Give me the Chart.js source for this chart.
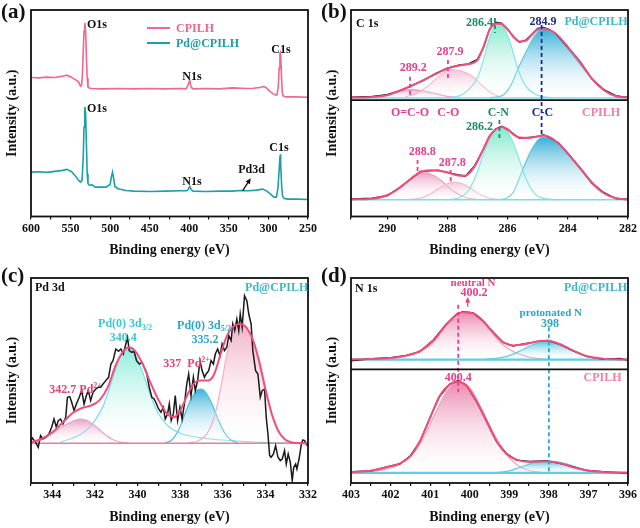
<!DOCTYPE html>
<html>
<head>
<meta charset="utf-8">
<script src="https://cdn.jsdelivr.net/npm/chart.js@4.4.1/dist/chart.umd.min.js"></script>
<style>
  body { margin: 0; background: #fff; }
  #fig { position: relative; width: 640px; height: 528px; }
  #fig canvas { position: absolute; }
</style>
</head>
<body>
<div id="fig">
  <canvas id="survey" width="320" height="264" style="left:0;top:0"></canvas>
  <canvas id="carbon" width="320" height="264" style="left:320px;top:0"></canvas>
  <canvas id="palladium" width="320" height="264" style="left:0;top:264px"></canvas>
  <canvas id="nitrogen" width="320" height="264" style="left:320px;top:264px"></canvas>
</div>
<script>
// ---------- (a) survey spectra ----------
const rangeA = [250, 600];
const yA = [0, 206];
const surveyCpilhE = [600, 590, 580, 570, 560, 555, 549, 543, 540, 537.5, 536, 535, 534, 533, 532, 531, 530, 529, 528, 525,
  510, 490, 470, 450, 430, 412, 404, 401.5, 399.5, 397.5, 395, 378, 362, 345, 328, 319, 311, 307, 303, 299,
  294, 290, 289, 287.5, 286.5, 285.5, 285, 284.5, 283.5, 282.5, 281.5, 280, 277, 265, 250];
const surveyCpilhI = [138.7, 138.3, 139, 138.7, 140, 141, 139, 136, 134.3, 130, 131, 142, 165, 185, 193.3, 185, 160, 138, 129, 127.7,
  127.3, 127.7, 127.3, 127.7, 127.3, 127.7, 127.3, 131.3, 136, 128.7, 127.3, 127.7, 127.3, 128.3, 127.7, 128, 128.7, 129.7, 128.7, 125.3,
  122.3, 121, 122, 130, 148, 162.7, 163.5, 160, 140, 124, 120.5, 119.7, 119.3, 119.3, 119];
const surveyPdE = [600, 590, 580, 570, 560, 555, 549, 544.5, 540.5, 537.5, 535.5, 534, 533, 532, 531, 530, 529, 528, 526, 523,
  519, 505, 500, 498.5, 497, 495.5, 494, 490, 480, 470, 450, 430, 412, 403, 401, 399.3, 397.5, 395, 380, 360,
  345, 336, 325, 315, 307, 302, 297, 293, 290, 288, 286.5, 285.3, 284.9, 284.2, 283.2, 282, 280, 275, 265, 250];
const surveyPdI = [44.3, 44.7, 44, 45, 46, 47, 45, 41, 36.7, 34.3, 36, 59.3, 89.3, 109.3, 102.7, 72.7, 42.7, 32.7, 31, 31.7,
  29.3, 29.3, 32, 39.3, 44.3, 37.7, 30, 27.7, 26, 25.3, 25, 25.3, 25.7, 25.7, 27.3, 30, 26.7, 25.3, 25, 25.3,
  25.3, 26, 25.7, 26.3, 27.3, 25.3, 22, 19.3, 19.3, 27.7, 46, 61, 62, 52.7, 29.3, 20, 18, 17.3, 17.3, 17];

// ---------- (b) C 1s ----------
const rangeB = [282, 291.2];
const yBTop = [-2.3, 87.7];
const yBBot = [-16.7, 99.3];
const c1sBaseE = [291.2, 282];
const c1sBaseI = [0, 0];
const c1sTopE = [291.2, 290.5, 290.0, 289.5, 289.2, 288.8, 288.4, 288.0, 287.6, 287.3, 287.0, 286.8, 286.6, 286.4, 286.2,
  286.0, 285.8, 285.6, 285.4, 285.2, 285.0, 284.8, 284.6, 284.4, 284.0, 283.6, 283.2, 282.8, 282.4, 282.0];
const c1sTopFit = [0.3, 1, 2.7, 8.3, 11.7, 17.7, 23.7, 29.3, 32.3, 33.7, 37.7, 51, 67.7, 74.3, 73.7,
  68.3, 61, 56.3, 57, 62.7, 68.3, 69.3, 67.7, 64.3, 51, 36, 19.3, 7.7, 1.7, 0.3];
const c1sTopRaw = [0.6, 1.4, 3.2, 8.0, 12.2, 17.2, 24.2, 29.8, 32.8, 34.0, 38.5, 50.2, 68.5, 75.5, 74.6,
  68.8, 60.5, 55.6, 57.6, 63.2, 69.4, 70.3, 68.2, 64.0, 50.4, 36.6, 19.0, 8.2, 2.0, 0.5];
const ccTopE = [286.6, 286.2, 285.9, 285.67, 285.4, 285.1, 284.85, 284.6, 284.3, 284.0, 283.6, 283.2, 282.8, 282.4, 282.0];
const ccTopI = [0.3, 2, 12, 28, 45, 62, 69, 67, 60, 49, 34, 19, 8, 2.5, 0.5];
const cnTopE = [287.9, 287.6, 287.3, 287.0, 286.8, 286.6, 286.35, 286.1, 285.9, 285.67, 285.4, 285.1, 284.8, 284.5];
const cnTopI = [0.4, 2, 8, 20, 38, 60, 74, 69, 54, 30, 12, 4, 1, 0.2];
const coTopE = [289.4, 289.0, 288.6, 288.3, 288.0, 287.8, 287.5, 287.2, 286.9, 286.6, 286.3];
const coTopI = [1, 5, 13, 21, 27, 28, 26.5, 22, 14, 6, 1.5];
const ocoTopE = [290.6, 290.2, 289.8, 289.4, 289.2, 288.9, 288.5, 288.1, 287.7];
const ocoTopI = [0.5, 2, 5, 7.7, 8.2, 7.5, 5, 2, 0.5];
const c1sBotE = [291.2, 290.5, 290.0, 289.6, 289.2, 288.9, 288.6, 288.3, 288.0, 287.7, 287.4, 287.1, 286.8, 286.6, 286.4,
  286.2, 286.0, 285.8, 285.6, 285.3, 285.0, 284.8, 284.6, 284.3, 284.0, 283.6, 283.2, 282.8, 282.4, 282.0];
const c1sBotFit = [0.3, 1, 4.5, 11.5, 21.5, 27.5, 29.5, 29, 27.5, 24.5, 24, 33, 51, 63, 70,
  72.7, 70.5, 65, 62, 61.5, 63.3, 64, 62.5, 56, 46.5, 31.5, 17, 6.5, 1.5, 0.3];
const c1sBotRaw = [0.8, 1.5, 4.0, 12.0, 21.0, 28.2, 29.0, 29.6, 27.0, 25.2, 23.4, 33.8, 50.4, 63.8, 70.6,
  73.4, 70.0, 65.6, 61.4, 62.2, 63.0, 64.8, 62.0, 56.6, 46.0, 32.0, 16.4, 7.0, 1.2, 0.6];
const ccBotE = [286.4, 286.1, 285.8, 285.5, 285.2, 284.95, 284.8, 284.5, 284.2, 283.9, 283.5, 283.1, 282.7, 282.3, 282.0];
const ccBotI = [0.2, 1, 8, 30, 50, 61, 62.7, 60, 53, 43, 29, 15, 5.5, 1, 0.2];
const cnBotE = [287.9, 287.6, 287.3, 287.0, 286.8, 286.6, 286.4, 286.2, 286.0, 285.8, 285.6, 285.4, 285.2, 285.0, 284.7, 284.4];
const cnBotI = [0.3, 2, 9, 28, 46, 60, 68, 71, 68, 56, 39, 22, 10, 3.5, 0.8, 0.1];
const coBotE = [289.3, 289.0, 288.6, 288.3, 288.0, 287.8, 287.5, 287.2, 286.9, 286.6, 286.3];
const coBotI = [0.3, 1, 5, 11, 16, 17.7, 16, 11, 5, 1.5, 0.3];
const ocoBotE = [290.8, 290.6, 290.2, 289.8, 289.4, 289.1, 288.8, 288.5, 288.2, 287.9, 287.6, 287.3, 287.0];
const ocoBotI = [0.2, 0.5, 3, 8, 16, 23, 27, 25, 19, 11, 5, 1.5, 0.3];

// ---------- (c) Pd 3d ----------
const rangeC = [332, 345];
const yC = [-39.7, 165.3];
const pdBaseE = [345, 332];
const pdBaseI = [0, 0];
const pdRawE = [345.0, 344.94, 344.78, 344.66, 344.55, 344.44, 344.31, 344.16, 344.03, 343.92,
  343.81, 343.72, 343.61, 343.50, 343.37, 343.29, 343.18, 343.09, 342.98, 342.87,
  342.75, 342.62, 342.51, 342.40, 342.31, 342.20, 342.09, 341.96, 341.84, 341.73,
  341.62, 341.49, 341.36, 341.25, 341.15, 341.02, 340.89, 340.78, 340.67, 340.55,
  340.47, 340.39, 340.27, 340.16, 340.05, 339.92, 339.80, 339.69, 339.58, 339.45,
  339.33, 339.22, 339.11, 339.01, 338.90, 338.79, 338.70, 338.59, 338.51, 338.42,
  338.32, 338.23, 338.12, 338.01, 337.91, 337.80, 337.69, 337.60, 337.49, 337.38,
  337.29, 337.18, 337.07, 336.97, 336.86, 336.78, 336.66, 336.55, 336.44, 336.35,
  336.24, 336.13, 336.03, 335.92, 335.81, 335.72, 335.61, 335.53, 335.44, 335.34,
  335.25, 335.18, 335.09, 334.98, 334.87, 334.78, 334.67, 334.59, 334.46, 334.35,
  334.24, 334.15, 334.04, 333.96, 333.88, 333.80, 333.73, 333.62, 333.52, 333.41,
  333.30, 333.21, 333.10, 333.02, 332.93, 332.83, 332.74, 332.67, 332.58, 332.52,
  332.42, 332.31, 332.24, 332.16, 332.08, 332.00];
const pdRawI = [2.7, 5.3, 1.0, -4.0, 7.7, 4.3, 6.0, 9.3, 16.0, 24.3,
  16.0, 22.7, 24.3, 19.3, 26.0, 46.0, 46.7, 41.0, 32.7, 39.3,
  45.3, 52.7, 39.3, 47.7, 52.7, 42.7, 51.0, 54.3, 56.0, 56.0,
  59.3, 62.7, 66.0, 79.3, 82.7, 94.3, 92.0, 94.3, 89.3, 99.3,
  106.0, 92.7, 91.0, 92.0, 82.7, 79.3, 81.0, 76.0, 71.0, 56.0,
  46.0, 44.3, 39.3, 34.3, 31.0, 36.0, 24.3, 29.3, 39.3, 22.7,
  29.3, 47.7, 22.7, 36.0, 24.3, 39.3, 59.3, 69.3, 47.7, 66.0,
  52.7, 62.7, 82.7, 72.7, 66.0, 69.3, 72.7, 82.7, 79.3, 89.3,
  94.3, 87.7, 99.3, 92.7, 96.0, 107.7, 102.7, 119.3, 112.7, 124.3,
  112.7, 129.3, 116.0, 147.7, 142.7, 129.3, 119.3, 92.7, 72.7, 69.3,
  46.0, 52.7, 54.3, 26.0, 9.3, -12.3, -14.0, -10.7, -2.3, -14.0,
  -17.3, -15.7, -7.3, -20.7, -10.7, -19.0, -37.3, -24.0, -20.7, -25.7,
  -15.7, -0.7, 3.3, 2.7, -0.7, -3.3];
const pdFitE = [345, 344.5, 344.0, 343.5, 343.0, 342.6, 342.2, 341.8, 341.4, 341.0, 340.7, 340.4, 340.1, 339.8, 339.4,
  339.0, 338.6, 338.3, 338.0, 337.6, 337.3, 337.0, 336.7, 336.4, 336.1, 335.8, 335.5, 335.2, 334.9, 334.6,
  334.3, 334.0, 333.7, 333.4, 333.1, 332.8, 332.5, 332.0];
const pdFitI = [1, 4.3, 11, 21, 31, 35.3, 37.7, 42.7, 56, 79.3, 91, 96, 92, 81, 61,
  42.7, 29.3, 26, 32.7, 51, 61, 62.7, 62.7, 69.3, 89.3, 107.7, 116.7, 119.3, 116, 104.3,
  82.7, 54.3, 29.3, 12.7, 4.3, 1, 0.3, 0];
const pd342E = [345.0, 344.5, 344.0, 343.5, 343.0, 342.7, 342.4, 342.0, 341.6, 341.2, 340.8, 340.4];
const pd342I = [1, 4, 10, 17, 22.5, 24.3, 23, 17.5, 10, 4, 1.2, 0.3];
const pd340E = [343.6, 343.2, 342.8, 342.4, 342.0, 341.6, 341.2, 340.9, 340.65, 340.45, 340.2, 339.9, 339.6,
  339.3, 339.0, 338.6, 338.2, 337.8, 337.2, 336.6, 336.0, 335.0, 334.0, 333.0, 332.0];
const pd340I = [1.5, 4, 7.5, 13, 23, 38, 63, 82, 93, 96, 92, 79, 61, 43, 29, 18, 12, 8.5, 6, 4.5, 3.3, 1.8, 0.9, 0.3, 0.1];
const pd337E = [338.7, 338.4, 338.1, 337.8, 337.5, 337.2, 337.0, 336.8, 336.5, 336.2, 335.9, 335.6, 335.3];
const pd337I = [0.5, 3, 12, 28, 44, 53, 54.3, 51, 39, 23, 10, 3, 0.5];
const pd335E = [337.6, 337.2, 336.8, 336.4, 336.1, 335.8, 335.5, 335.2, 334.9, 334.6, 334.3, 334.0, 333.7, 333.4, 333.1, 332.8, 332.5];
const pd335I = [0.5, 2, 8, 26, 55, 90, 111, 119, 115, 102, 80, 53, 29, 12, 4, 1, 0.2];

// ---------- (d) N 1s ----------
const rangeD = [396, 403];
const yDTop = [-9.7, 81.3];
const yDBot = [-10, 103.3];
const n1sBaseE = [403, 396];
const n1sBaseI = [0, 0];
const n1sTopE = [403, 402.5, 402.0, 401.6, 401.26, 400.92, 400.59, 400.33, 400.17, 399.91, 399.66, 399.41,
  399.16, 398.9, 398.57, 398.23, 398.02, 397.73, 397.39, 397.05, 396.63, 396.21, 396];
const n1sTopFit = [0.2, 0.5, 1.5, 4, 8.5, 19, 35, 44.5, 47.2, 46, 38.5, 27, 17.5, 14, 15.5, 18.5, 18.7, 15.5, 9, 3.5, 0.8, 0.2, 0.1];
const n1sTopRaw = [-1.3, 0.8, 1.8, 4.2, 8.0, 19.5, 35.5, 45.3, 47.7, 46.4, 38.2, 27.4, 17.2, 13.5, 16.2, 18.4, 19.0, 15.2, 8.6, 3.2, 0.3, 1.2, -0.7];
const neuTopE = [402.8, 402.4, 402.0, 401.6, 401.2, 400.9, 400.6, 400.3, 400.05, 399.8, 399.5, 399.2, 398.9, 398.6, 398.3, 398.0];
const neuTopI = [0.2, 0.5, 1.5, 4, 9, 18, 34, 43, 47, 44, 30, 16, 8, 3.5, 1.2, 0.3];
const proTopE = [399.6, 399.3, 399.0, 398.7, 398.4, 398.05, 397.7, 397.4, 397.1, 396.8, 396.5];
const proTopI = [0.3, 1.5, 4, 9, 15, 18.7, 15.5, 9.5, 4, 1.3, 0.3];
const n1sBotE = [403, 402.5, 402.0, 401.76, 401.5, 401.26, 401.0, 400.76, 400.5, 400.29, 400.08, 399.83,
  399.58, 399.32, 399.07, 398.82, 398.48, 398.06, 397.73, 397.39, 397.05, 396.63, 396];
const n1sBotFit = [1, 2.3, 6.7, 9.5, 16.7, 31.7, 55, 76.7, 88.3, 91, 86.7, 71.7, 51.7, 31.7, 19, 13.3, 11, 11.7, 10, 5.7, 2.7, 1, 0.2];
const n1sBotRaw = [1.3, 2.0, 7.0, 9.0, 17.2, 31.2, 55.6, 76.2, 88.8, 92.2, 87.2, 71.2, 52.2, 31.0, 19.4, 12.8, 11.5, 12.2, 9.6, 6.2, 2.4, 1.3, -0.3];
const neuBotE = [403.0, 402.6, 402.2, 401.8, 401.5, 401.2, 400.9, 400.6, 400.3, 400.0, 399.7, 399.4, 399.1, 398.8, 398.5, 398.2];
const neuBotI = [0.3, 1, 3, 8, 16.5, 33, 57, 80, 91, 85, 64, 40, 20, 8, 2.5, 0.5];
const proBotE = [399.4, 399.0, 398.7, 398.4, 398.0, 397.6, 397.3, 397.0, 396.6];
const proBotI = [0.3, 2, 6, 10, 11.7, 9.5, 5.5, 2.5, 0.5];

// ---------- colours ----------
const PINK = '#f0678f', TEAL = '#1e9eab', FIT = '#f24d7c', RAW = '#1a1a1a';
const MAG = '#e83e8c', GREEN = '#1f8a6a', NAVY = '#1c2a8c', CYAN = '#3bb8c6', CYAN2 = '#2aa6c8', LPINK = '#f07fa0';
const SERIF = "'Liberation Serif', 'Times New Roman', serif";

Chart.defaults.font.family = SERIF;
Chart.defaults.font.weight = 'bold';
Chart.defaults.color = '#111';
Chart.defaults.animation = false;
Chart.defaults.events = [];
Chart.defaults.plugins.legend.display = false;
Chart.defaults.plugins.tooltip.enabled = false;

const pts = (es, vs) => es.map((e, i) => ({ x: e, y: vs[i] }));

function trace(label, es, vs, color, width, axis, smooth) {
  return {
    label, data: pts(es, vs), borderColor: color, borderWidth: width, pointRadius: 0,
    fill: false, yAxisID: axis, tension: 0,
    cubicInterpolationMode: smooth ? 'monotone' : 'default'
  };
}

// vertical gradient: saturated at the peak top, fading to white at the baseline
function shade(color, axis) {
  return ctx => {
    const ch = ctx.chart;
    if (!ch.chartArea) return color;
    const sc = ch.scales[axis];
    const top = Math.max(...ch.data.datasets[ctx.datasetIndex].data.map(p => p.y));
    const g = ch.ctx.createLinearGradient(0, sc.getPixelForValue(top), 0, sc.getPixelForValue(0));
    g.addColorStop(0, color);
    g.addColorStop(1, 'rgba(255,255,255,0.1)');
    return g;
  };
}

function peak(label, es, vs, edge, tint, axis) {
  return {
    label, data: pts(es, vs), borderColor: edge, borderWidth: 1.2, pointRadius: 0, yAxisID: axis,
    cubicInterpolationMode: 'monotone', fill: 'origin', backgroundColor: shade(tint, axis)
  };
}

function energyAxis(range, step, every, height, titlePad) {
  return {
    type: 'linear', reverse: true, min: range[0], max: range[1],
    afterFit: s => { s.height = height; },
    grid: { drawOnChartArea: false, drawTicks: true, tickLength: 3, color: '#111', lineWidth: 1.2 },
    border: { display: false },
    ticks: {
      stepSize: step, autoSkip: false, maxRotation: 0, padding: 2, color: '#111',
      font: { size: 12, weight: 'bold' },
      callback: v => Math.abs(v / every - Math.round(v / every)) < 1e-6 ? String(Math.round(v)) : ''
    },
    title: {
      display: true, text: 'Binding energy (eV)', color: '#111',
      font: { size: 14, weight: 'bold' }, padding: { top: 0, bottom: titlePad }
    }
  };
}

function intensityAxis(range, extra) {
  return Object.assign({
    type: 'linear', min: range[0], max: range[1],
    afterFit: s => { s.width = 31; },
    grid: { display: false, drawTicks: false }, border: { display: false }, ticks: { display: false }
  }, extra);
}

// ---------- annotations (canvas pixels, x of markers in eV) ----------
const DECOR = {
  survey: {
    tag: '(a)', marks: [],
    legend: [{ ds: 0, y: 28 }, { ds: 1, y: 43 }],
    arrows: [{ from: [242.7, 190.7], to: [250.7, 178.3], c: '#111' }],
    texts: [
      { t: 'O1s', x: 97, y: 25 }, { t: 'N1s', x: 192, y: 76.5 }, { t: 'C1s', x: 281, y: 50 },
      { t: 'O1s', x: 97, y: 109 }, { t: 'N1s', x: 192, y: 182 }, { t: 'Pd3d', x: 251.5, y: 169.5 },
      { t: 'C1s', x: 279, y: 147.5 }
    ]
  },
  carbon: {
    tag: '(b)', split: 'yTop',
    marks: [
      { e: 286.42, y1: 18, y2: 33, c: GREEN }, { e: 284.87, y1: 25, y2: 137, c: NAVY },
      { e: 287.98, y1: 60, y2: 78.3, c: MAG }, { e: 289.24, y1: 76.7, y2: 95, c: MAG },
      { e: 286.27, y1: 120, y2: 138.3, c: GREEN }, { e: 288.99, y1: 160, y2: 175, c: MAG },
      { e: 287.89, y1: 170, y2: 182.7, c: MAG }
    ],
    texts: [
      { t: 'C 1s', x: 36, y: 23.5, align: 'left' },
      { t: '286.4', x: 159.5, y: 23, c: GREEN }, { t: '284.9', x: 223, y: 21.7, c: NAVY },
      { t: 'Pd@CPILH', x: 276, y: 22, c: CYAN },
      { t: '287.9', x: 130, y: 51.7, c: MAG }, { t: '289.2', x: 93.3, y: 68.3, c: MAG },
      { t: 'O=C-O', x: 90, y: 113.3, c: MAG }, { t: 'C-O', x: 128.3, y: 113.3, c: MAG },
      { t: 'C-N', x: 178.3, y: 113.3, c: GREEN }, { t: 'C-C', x: 222.5, y: 113.3, c: NAVY },
      { t: 'CPILH', x: 281, y: 113.3, c: LPINK },
      { t: '286.2', x: 159.5, y: 126.7, c: GREEN }, { t: '288.8', x: 102.2, y: 151.7, c: MAG },
      { t: '287.8', x: 132.2, y: 163.3, c: MAG }
    ]
  },
  palladium: {
    tag: '(c)', marks: [],
    texts: [
      { t: 'Pd 3d', x: 35, y: 23.7, align: 'left' },
      { t: 'Pd@CPILH', x: 276.7, y: 23.7, c: CYAN },
      { parts: [['Pd(0) 3d', 'n'], ['3/2', 'sub']], x: 125, y: 60, c: '#3cc8d2' },
      { t: '340.4', x: 123.3, y: 73.7, c: '#3cc8d2' },
      { parts: [['Pd(0) 3d', 'n'], ['5/2', 'sub']], x: 204, y: 61.7, c: CYAN2 },
      { t: '335.2', x: 205, y: 75.5, c: CYAN2 },
      { parts: [['337  Pd', 'n'], ['2+', 'sup']], x: 163.3, y: 100.3, align: 'left', c: '#e8407a' },
      { parts: [['342.7 Pd', 'n'], ['2+', 'sup']], x: 49.3, y: 125.7, align: 'left', c: '#e8407a' }
    ]
  },
  nitrogen: {
    tag: '(d)', split: 'yTop',
    marks: [{ e: 400.29, y1: 40.7, y2: 128.3, c: MAG }, { e: 398.0, y1: 63.3, y2: 210, c: CYAN2 }],
    arrows: [{ from: [147.7, 42.7], to: [147.7, 33], c: MAG }],
    texts: [
      { t: 'N 1s', x: 35, y: 25, align: 'left' },
      { t: 'neutral N', x: 153, y: 18.8, c: MAG, size: 11 },
      { t: '400.2', x: 154, y: 28.8, c: MAG },
      { t: 'Pd@CPILH', x: 275.5, y: 23.7, c: CYAN },
      { t: 'protonated N', x: 230.8, y: 48.8, c: CYAN2, size: 11 },
      { t: '398', x: 230, y: 59.7, c: CYAN2 },
      { t: 'CPILH', x: 282.5, y: 113.7, c: LPINK },
      { t: '400.4', x: 138.3, y: 113.7, c: MAG }
    ]
  }
};

function drawRich(g, t) {
  const size = t.size || 12;
  const parts = t.parts || [[t.t, 'n']];
  const fontOf = k => `bold ${k === 'n' ? size : Math.round(size * 0.7)}px ${SERIF}`;
  let w = 0;
  for (const [s, k] of parts) { g.font = fontOf(k); w += g.measureText(s).width; }
  let x = t.align === 'left' ? t.x : t.x - w / 2;
  g.fillStyle = t.c || '#111';
  g.textAlign = 'left';
  g.textBaseline = 'middle';
  for (const [s, k] of parts) {
    g.font = fontOf(k);
    const dy = k === 'sub' ? size * 0.3 : k === 'sup' ? -size * 0.35 : 0;
    g.fillText(s, x, t.y + dy);
    x += g.measureText(s).width;
  }
}

const decor = {
  id: 'decor',
  afterDraw(chart) {
    const d = DECOR[chart.canvas.id];
    const g = chart.ctx, a = chart.chartArea, X = chart.scales.x;
    g.save();
    g.lineWidth = 1.8;
    g.setLineDash([4, 3]);
    for (const m of d.marks) {
      const px = X.getPixelForValue(m.e);
      g.strokeStyle = m.c;
      g.beginPath(); g.moveTo(px, m.y1); g.lineTo(px, m.y2); g.stroke();
    }
    g.setLineDash([]);
    g.strokeStyle = '#111';
    g.strokeRect(a.left, a.top, a.right - a.left, a.bottom - a.top);
    if (d.split) {
      const y = chart.scales[d.split].bottom;
      g.beginPath(); g.moveTo(a.left, y); g.lineTo(a.right, y); g.stroke();
    }
    g.fillStyle = '#111';
    g.textBaseline = 'middle';
    g.textAlign = 'left';
    g.font = `bold 21px ${SERIF}`;
    g.fillText(d.tag, 1, 13);
    g.save();
    g.translate(12, (a.top + a.bottom) / 2);
    g.rotate(-Math.PI / 2);
    g.textAlign = 'center';
    g.font = `bold 14px ${SERIF}`;
    g.fillText('Intensity (a.u.)', 0, 0);
    g.restore();
    for (const lg of d.legend || []) {
      const ds = chart.data.datasets[lg.ds];
      g.strokeStyle = ds.borderColor; g.lineWidth = 2;
      g.beginPath(); g.moveTo(147, lg.y); g.lineTo(170, lg.y); g.stroke();
      drawRich(g, { t: ds.label, x: 176, y: lg.y + 0.5, align: 'left', c: ds.borderColor });
    }
    for (const ar of d.arrows || []) {
      const [x1, y1] = ar.from, [x2, y2] = ar.to;
      const ang = Math.atan2(y2 - y1, x2 - x1);
      g.strokeStyle = ar.c; g.fillStyle = ar.c; g.lineWidth = 1.3;
      g.beginPath(); g.moveTo(x1, y1); g.lineTo(x2 - 3 * Math.cos(ang), y2 - 3 * Math.sin(ang)); g.stroke();
      g.beginPath();
      g.moveTo(x2, y2);
      g.lineTo(x2 - 6 * Math.cos(ang - 0.45), y2 - 6 * Math.sin(ang - 0.45));
      g.lineTo(x2 - 6 * Math.cos(ang + 0.45), y2 - 6 * Math.sin(ang + 0.45));
      g.closePath(); g.fill();
    }
    for (const t of d.texts) drawRich(g, t);
    g.restore();
  }
};

function panel(id, datasets, scales, top) {
  return new Chart(document.getElementById(id), {
    type: 'line',
    data: { datasets },
    options: {
      responsive: false,
      layout: { padding: { top, right: 12, left: 0, bottom: 0 } },
      scales
    },
    plugins: [decor]
  });
}

// (a)
panel('survey', [
  trace('CPILH', surveyCpilhE, surveyCpilhI, PINK, 1.6, 'y', false),
  trace('Pd@CPILH', surveyPdE, surveyPdI, TEAL, 1.6, 'y', false)
], { x: energyAxis(rangeA, 25, 50, 47.5, 5.6), y: intensityAxis(yA) }, 10);

// (b) — stacked intensity axes: the later one is placed on top
panel('carbon', [
  trace('fit top', c1sTopE, c1sTopFit, FIT, 2, 'yTop', true),
  trace('raw top', c1sTopE, c1sTopRaw, RAW, 1.4, 'yTop', false),
  trace('base top', c1sBaseE, c1sBaseI, '#7fdbe8', 1.5, 'yTop', false),
  peak('C-N', cnTopE, cnTopI, '#86e4e4', 'rgba(110,228,196,0.85)', 'yTop'),
  peak('C-C', ccTopE, ccTopI, '#5cc6e0', 'rgba(30,165,210,0.9)', 'yTop'),
  peak('C-O', coTopE, coTopI, '#f4b6cf', 'rgba(240,178,205,0.75)', 'yTop'),
  peak('O=C-O', ocoTopE, ocoTopI, '#ec9cc0', 'rgba(230,140,185,0.8)', 'yTop'),
  trace('fit bottom', c1sBotE, c1sBotFit, FIT, 2, 'yBot', true),
  trace('raw bottom', c1sBotE, c1sBotRaw, RAW, 1.4, 'yBot', false),
  trace('base bottom', c1sBaseE, c1sBaseI, '#7fdbe8', 1.5, 'yBot', false),
  peak('C-N', cnBotE, cnBotI, '#86e4e4', 'rgba(110,228,196,0.85)', 'yBot'),
  peak('C-C', ccBotE, ccBotI, '#5cc6e0', 'rgba(30,165,210,0.9)', 'yBot'),
  peak('C-O', coBotE, coBotI, '#f4b6cf', 'rgba(240,178,205,0.75)', 'yBot'),
  peak('O=C-O', ocoBotE, ocoBotI, '#ec9cc0', 'rgba(230,140,185,0.8)', 'yBot')
], {
  x: energyAxis(rangeB, 1, 2, 47.5, 5.6),
  yBot: intensityAxis(yBBot, { stack: 'c1s', stackWeight: yBBot[1] - yBBot[0] }),
  yTop: intensityAxis(yBTop, { stack: 'c1s', stackWeight: yBTop[1] - yBTop[0] })
}, 10);

// (c)
panel('palladium', [
  trace('fit', pdFitE, pdFitI, FIT, 2, 'y', true),
  trace('raw', pdRawE, pdRawI, RAW, 1.5, 'y', false),
  trace('base', pdBaseE, pdBaseI, '#f07a9c', 1.5, 'y', false),
  peak('Pd(0) 3d5/2', pd335E, pd335I, '#f4aec6', 'rgba(238,160,186,0.8)', 'y'),
  peak('Pd2+ 337', pd337E, pd337I, '#50c0e0', 'rgba(40,172,214,0.9)', 'y'),
  peak('Pd2+ 342.7', pd342E, pd342I, '#f0a0c8', 'rgba(228,136,182,0.8)', 'y'),
  peak('Pd(0) 3d3/2', pd340E, pd340I, '#74dfe6', 'rgba(120,232,212,0.85)', 'y')
], { x: energyAxis(rangeC, 1, 2, 45, 2.6), y: intensityAxis(yC) }, 14);

// (d)
panel('nitrogen', [
  trace('fit top', n1sTopE, n1sTopFit, FIT, 2, 'yTop', true),
  trace('raw top', n1sTopE, n1sTopRaw, RAW, 1.4, 'yTop', false),
  trace('base top', n1sBaseE, n1sBaseI, '#5ccfe6', 2.2, 'yTop', false),
  peak('protonated N', proTopE, proTopI, '#5ccfe0', 'rgba(45,182,214,0.85)', 'yTop'),
  peak('neutral N', neuTopE, neuTopI, '#f2a2bc', 'rgba(230,112,160,0.85)', 'yTop'),
  trace('fit bottom', n1sBotE, n1sBotFit, FIT, 2, 'yBot', true),
  trace('raw bottom', n1sBotE, n1sBotRaw, RAW, 1.4, 'yBot', false),
  trace('base bottom', n1sBaseE, n1sBaseI, '#5ccfe6', 2.2, 'yBot', false),
  peak('protonated N', proBotE, proBotI, '#5ccfe0', 'rgba(45,182,214,0.85)', 'yBot'),
  peak('neutral N', neuBotE, neuBotI, '#f2a2bc', 'rgba(230,112,160,0.85)', 'yBot')
], {
  x: energyAxis(rangeD, 0.5, 1, 45, 2.6),
  yBot: intensityAxis(yDBot, { stack: 'n1s', stackWeight: yDBot[1] - yDBot[0] }),
  yTop: intensityAxis(yDTop, { stack: 'n1s', stackWeight: yDTop[1] - yDTop[0] })
}, 14);
</script>
</body>
</html>
